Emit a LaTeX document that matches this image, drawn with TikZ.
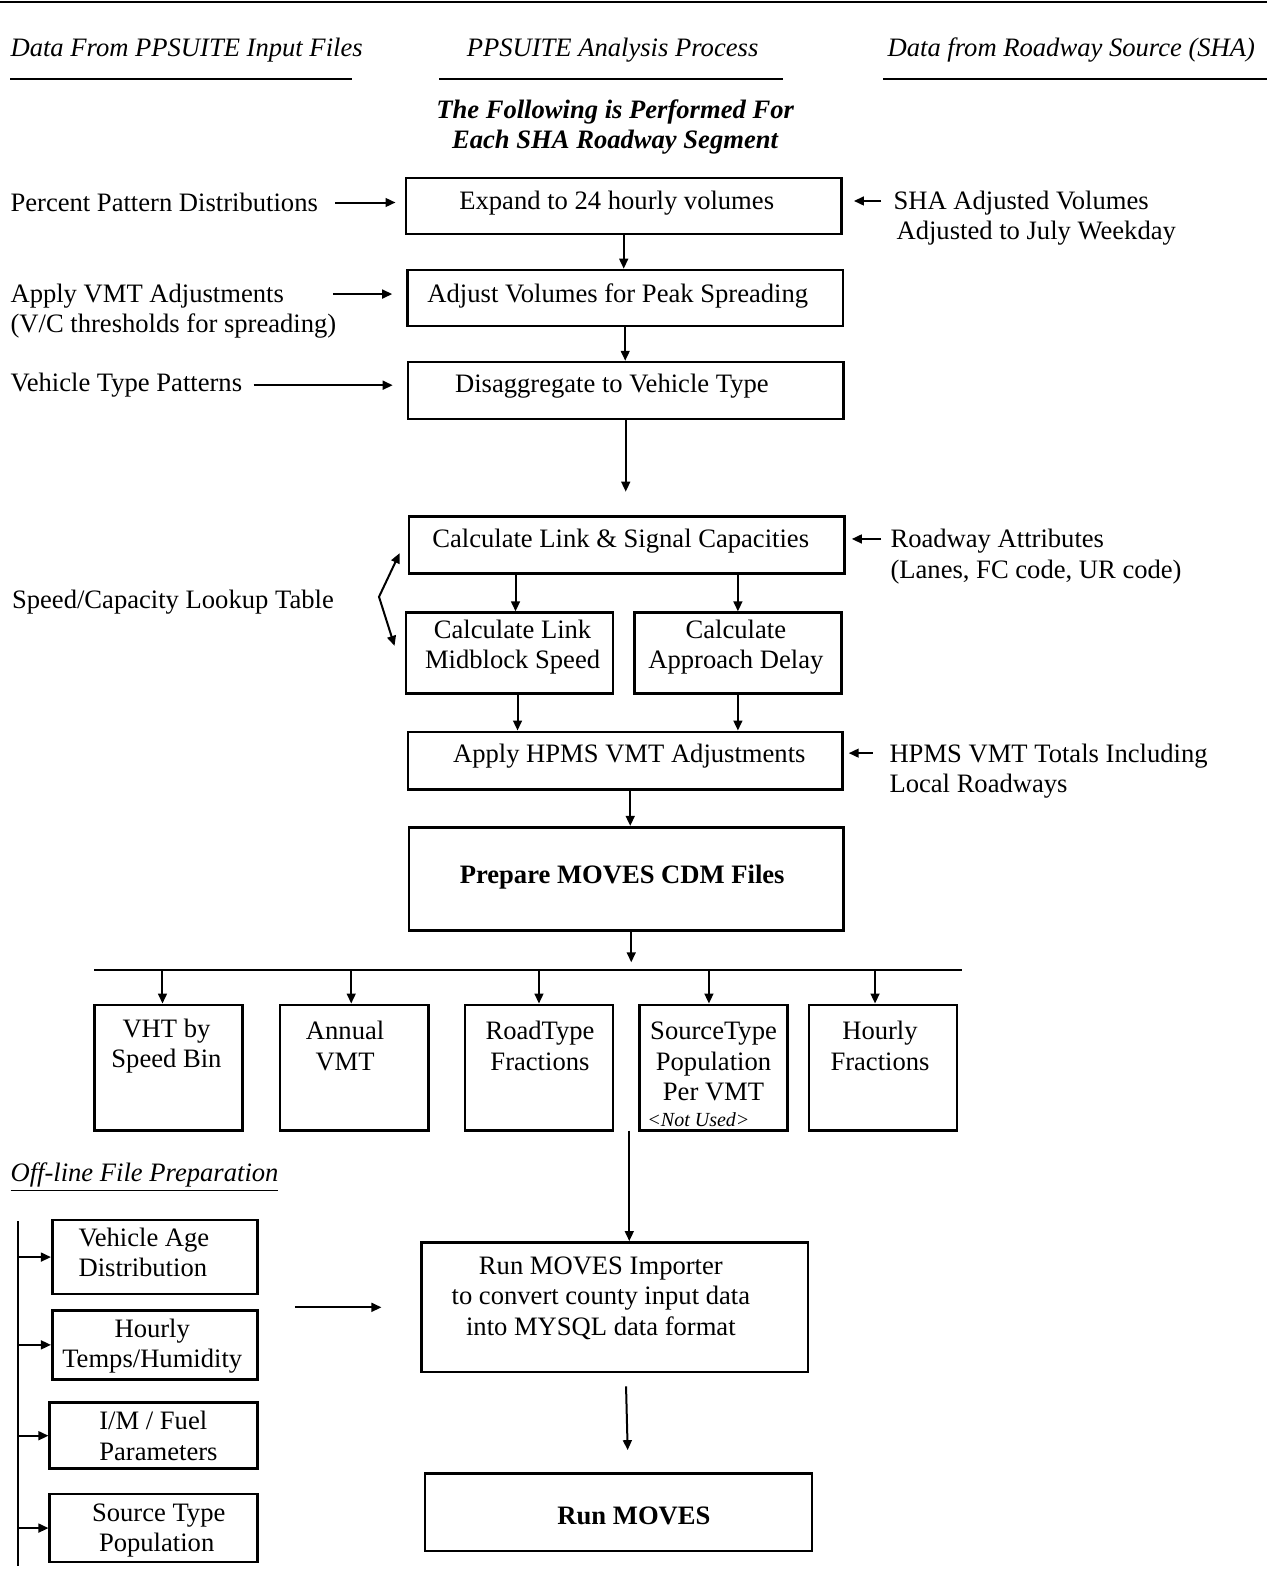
\documentclass[tikz,border=0pt]{standalone}
\usepackage{fontspec}
\setmainfont{Liberation Serif}
\usetikzlibrary{arrows.meta}
\newcommand{\pxu}{0.5075pt}
\newcommand{\dfont}{\fontsize{13.3}{15.2}\selectfont}
\begin{document}
\begin{tikzpicture}[x=\pxu, y=-\pxu, font=\dfont,
  box/.style={draw, line width=1.3pt, inner sep=0pt},
  sz/.style 2 args={minimum width=#1*\pxu, minimum height=#2*\pxu},
  txt/.style={inner sep=0pt, align=center},
  ltxt/.style={inner sep=0pt, align=left, anchor=west},
  arr/.style={line width=1pt, -{Triangle[length=5pt,width=4.4pt]}},
  darr/.style={line width=1pt, {Triangle[length=5pt,width=4.4pt]}-{Triangle[length=5pt,width=4.4pt]}},
  rule/.style={line width=1.1pt}]
\useasboundingbox (0,0) rectangle (1248.3,1567.5);

\draw[line width=1.2pt] (0,2) -- (1248.3,2);
\node[ltxt, font=\dfont\itshape] (hdl) at (10,49.5) {Data From PPSUITE Input Files};
\node[txt, font=\dfont\itshape] (hdc) at (603.5,49.5) {PPSUITE Analysis Process};
\node[txt, font=\dfont\itshape] (hdr) at (1055.5,49.5) {Data from Roadway Source (SHA)};
\draw[rule] (10,78) -- (347,78);
\draw[rule] (433,78) -- (771,78);
\draw[rule] (870,78) -- (1248.3,78);
\node[txt, font=\dfont\bfseries\itshape] (ttl) at (606,125) {The Following is Performed For\\Each SHA Roadway Segment};

\node[box, sz={429}{55}] (expand) at (614.5,203) {};
\node[txt] (expandt) at (607.6,200.3) {Expand to 24 hourly volumes};
\node[box, sz={429}{55}] (adjust) at (616,293.5) {};
\node[txt] (adjustt) at (608.7,291.3) {Adjust Volumes for Peak Spreading};
\node[box, sz={429}{56}] (disagg) at (616.5,384.7) {};
\node[txt] (disaggt) at (602.8,380.6) {Disaggregate to Vehicle Type};
\node[box, sz={429}{56.5}] (cap) at (617.5,537) {};
\node[txt] (capt) at (611.5,532.7) {Calculate Link \& Signal Capacities};
\node[box, sz={204}{79.4}] (mid) at (502,643.3) {};
\node[txt] (midt) at (505,637.7) {Calculate Link\\Midblock Speed};
\node[box, sz={204}{79.4}] (appr) at (727,643.3) {};
\node[txt] (apprt) at (725,637.7) {Calculate\\Approach Delay};
\node[box, sz={428}{56.6}] (hpms) at (616,749.3) {};
\node[txt] (hpmst) at (620,744.5) {Apply HPMS VMT Adjustments};
\node[box, sz={428}{102}] (cdm) at (617,866) {};
\node[txt, font=\dfont\bfseries] (cdmt) at (613,864.5) {Prepare MOVES CDM Files};

\node[ltxt] (ppd) at (10,199.5) {Percent Pattern Distributions};
\node[ltxt] (vmta) at (10,306.5) {Apply VMT Adjustments\\(V/C thresholds for spreading)};
\node[ltxt] (vtp) at (10,379.5) {Vehicle Type Patterns};
\node[ltxt] (slt) at (11.5,593) {Speed/Capacity Lookup Table};
\node[ltxt] (sha) at (880,215) {SHA Adjusted Volumes\\\hspace{1.5pt}Adjusted to July Weekday};
\node[ltxt] (rat) at (877,548.5) {Roadway Attributes\\(Lanes, FC code, UR code)};
\node[ltxt] (hpt) at (876,759.5) {HPMS VMT Totals Including\\Local Roadways};

\coordinate (vmtin) at (328,289.7);
\coordinate (shain) at (868,198);
\coordinate (rain) at (868,531);
\coordinate (hpin) at (860,742);
\coordinate (lkp) at (373.4,588);
\coordinate (busl) at (93,956);
\coordinate (busr) at (948,956);
\coordinate (rowb) at (620,1114);
\coordinate (offa) at (290.6,1288);
\coordinate (offt) at (18,1203);
\coordinate (offb) at (18,1543);

\foreach \n/\x in {vht/166, vmt/349, rtf/531, stp/703, hrf/870}
  \node[box, sz={146}{124}] (\n) at (\x,1052) {};
\node[txt] (vhtt) at (164,1030.5) {VHT by\\Speed Bin};
\node[txt] (vmtt) at (340,1030.5) {Annual\\VMT};
\node[txt] (rtft) at (532,1030.5) {RoadType\\Fractions};
\node[txt] (stpt) at (703,1046) {SourceType\\Population\\Per VMT};
\node[ltxt, font=\fontsize{10}{12}\selectfont\itshape] (nused) at (637.5,1103.5) {<Not Used>};
\node[txt] (hrft) at (867,1030.5) {Hourly\\Fractions};

\node[ltxt, font=\dfont\itshape] (offl) at (10,1159.6) {\underline{Off-line File Preparation}};
\node[box, sz={202}{73}] (vad) at (152.5,1238.5) {};
\node[ltxt] (vadt) at (77,1233.8) {Vehicle Age\\Distribution};
\node[box, sz={202}{68}] (htm) at (152.5,1325) {};
\node[txt] (htmt) at (150,1326.4) {Hourly\\Temps/Humidity};
\node[box, sz={204.5}{65}] (imf) at (151.3,1414.5) {};
\node[ltxt] (imft) at (97.5,1414.5) {I/M / Fuel\\Parameters};
\node[box, sz={204.5}{67}] (stpo) at (151.3,1505.5) {};
\node[ltxt] (stpot) at (90.3,1508) {Source Type\\\hspace{3.5pt}Population};

\node[box, sz={380.5}{127.5}] (imp) at (605.8,1287.8) {};
\node[txt] (impt) at (592,1279) {Run MOVES Importer\\to convert county input data\\into MYSQL data format};
\node[box, sz={381}{76}] (run) at (609.4,1490) {};
\node[txt, font=\dfont\bfseries] (runt) at (624.6,1493.3) {Run MOVES};

\draw[arr, shorten <=8.6pt, shorten >=4.6pt] (ppd.east) -- (ppd.east -| expand.west);
\draw[arr, shorten >=7pt] (vmtin) -- (vmtin -| adjust.west);
\draw[arr, shorten <=5.6pt, shorten >=7pt] (vtp.east) -- (vtp.east -| disagg.west);
\draw[arr, shorten >=5.6pt] (shain) -- (shain -| expand.east);
\draw[arr, shorten >=3pt] (rain) -- (rain -| cap.east);
\draw[arr, shorten >=2.5pt] (hpin) -- (hpin -| hpms.east);
\draw[darr] ([shift={(-8,8)}]cap.west) -- (lkp) -- ([shift={(-10,-7)}]mid.west);

\draw[arr] (expand.south) -- (expand.south |- adjust.north);
\draw[arr] (adjust.south) -- (adjust.south |- disagg.north);
\draw[arr, shorten >=11.7pt] (disagg.south) -- (disagg.south |- cap.north);
\draw[arr] ([xshift=3pt]mid.north |- cap.south) -- ([xshift=3pt]mid.north);
\draw[arr] (appr.north |- cap.south) -- (appr.north);
\draw[arr] ([xshift=4pt]mid.south) -- ([xshift=4pt]mid.south |- hpms.north);
\draw[arr] (appr.south) -- (appr.south |- hpms.north);
\draw[arr] ([xshift=2.5pt]hpms.south) -- ([xshift=2.5pt]hpms.south |- cdm.north);
\draw[arr, shorten >=4pt] ([xshift=2.5pt]cdm.south) -- ([xshift=2.5pt]cdm.south |- busl);
\draw[rule] (busl) -- (busr);
\foreach \n/\dx in {vht/-3, vmt/-1.5, rtf/0, stp/-2.3, hrf/-4}
  \draw[arr] ([xshift=\dx pt]\n.north |- busl) -- ([xshift=\dx pt]\n.north);

\draw[arr] (rowb) -- (rowb |- imp.north);
\draw[line width=1pt] (offt) -- (offb);
\foreach \n in {vad, htm, imf, stpo}
  \draw[arr] (offt |- \n.west) -- (\n.west);
\draw[arr, shorten >=19.5pt] (offa) -- (offa -| imp.west);
\draw[arr] ([shift={(11,13)}]imp.south) -- ([shift={(9,-22)}]run.north);
\end{tikzpicture}
\end{document}
